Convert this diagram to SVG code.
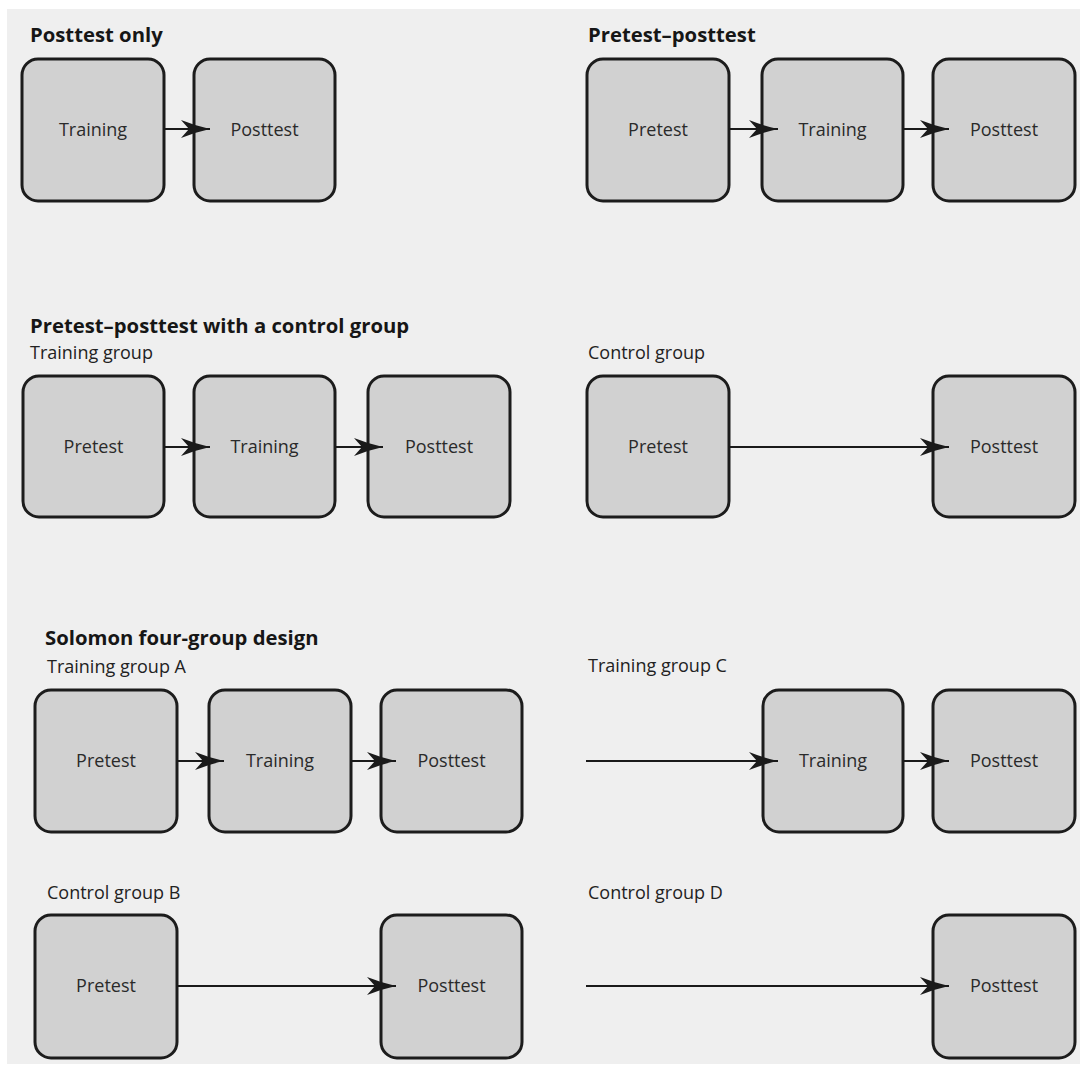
<svg xmlns="http://www.w3.org/2000/svg" width="1080" height="1066" viewBox="0 0 1080 1066">
  <defs>
    <style>
      .panel { fill: #efefef; }
      .box { fill: #d1d1d1; stroke: #1c1c1c; stroke-width: 3; }
      .label { font-family: "Open Sans", "Noto Sans", sans-serif; font-size: 18px; fill: #2a2a2a; text-anchor: middle; }
      .title { font-family: "Open Sans", "Noto Sans", sans-serif; font-size: 20.3px; font-weight: 700; fill: #161616; }
      .sub { font-family: "Open Sans", "Noto Sans", sans-serif; font-size: 18px; fill: #222222; }
      .link { stroke: #1a1a1a; stroke-width: 2; fill: none; marker-end: url(#barb); }
    </style>
    <marker id="barb" markerUnits="userSpaceOnUse" markerWidth="32" markerHeight="20" viewBox="-30 -10 32 20" refX="0" refY="0" orient="auto">
      <path d="M0,0 Q-14,-3 -29,-9 L-21,0 L-29,9 Q-14,3 0,0 Z" fill="#1a1a1a"/>
    </marker>
  </defs>

  <rect class="panel" x="7" y="9" width="1073" height="1055"/>

  <!-- headings -->
  <g id="headings">
    <text class="title" x="30" y="42">Posttest only</text>
    <text class="title" x="588" y="42">Pretest–posttest</text>
    <text class="title" x="30" y="333">Pretest–posttest with a control group</text>
    <text class="sub" x="30" y="359">Training group</text>
    <text class="sub" x="588" y="359">Control group</text>
    <text class="title" x="45" y="645">Solomon four-group design</text>
    <text class="sub" x="47" y="673">Training group A</text>
    <text class="sub" x="588" y="672">Training group C</text>
    <text class="sub" x="47" y="899">Control group B</text>
    <text class="sub" x="588" y="899">Control group D</text>
  </g>

  <!-- posttest only -->
  <g id="po-training"><rect class="box" x="22" y="59" width="142" height="142" rx="16"/><text class="label" x="93" y="136">Training</text></g>
  <g id="po-posttest"><rect class="box" x="194" y="59" width="141" height="142" rx="16"/><text class="label" x="264.5" y="136">Posttest</text></g>

  <!-- pretest-posttest -->
  <g id="pp-pretest"><rect class="box" x="587" y="59" width="142" height="142" rx="16"/><text class="label" x="658" y="136">Pretest</text></g>
  <g id="pp-training"><rect class="box" x="762" y="59" width="141" height="142" rx="16"/><text class="label" x="832.5" y="136">Training</text></g>
  <g id="pp-posttest"><rect class="box" x="933" y="59" width="142" height="142" rx="16"/><text class="label" x="1004" y="136">Posttest</text></g>

  <!-- pretest-posttest with control: training group -->
  <g id="tg-pretest"><rect class="box" x="23" y="376" width="141" height="141" rx="16"/><text class="label" x="93.5" y="453">Pretest</text></g>
  <g id="tg-training"><rect class="box" x="194" y="376" width="141" height="141" rx="16"/><text class="label" x="264.5" y="453">Training</text></g>
  <g id="tg-posttest"><rect class="box" x="368" y="376" width="142" height="141" rx="16"/><text class="label" x="439" y="453">Posttest</text></g>

  <!-- control group -->
  <g id="cg-pretest"><rect class="box" x="587" y="376" width="142" height="141" rx="16"/><text class="label" x="658" y="453">Pretest</text></g>
  <g id="cg-posttest"><rect class="box" x="933" y="376" width="142" height="141" rx="16"/><text class="label" x="1004" y="453">Posttest</text></g>

  <!-- Solomon: training group A -->
  <g id="a-pretest"><rect class="box" x="35" y="690" width="142" height="142" rx="16"/><text class="label" x="106" y="767">Pretest</text></g>
  <g id="a-training"><rect class="box" x="209" y="690" width="142" height="142" rx="16"/><text class="label" x="280" y="767">Training</text></g>
  <g id="a-posttest"><rect class="box" x="381" y="690" width="141" height="142" rx="16"/><text class="label" x="451.5" y="767">Posttest</text></g>

  <!-- Solomon: training group C -->
  <g id="c-training"><rect class="box" x="763" y="690" width="140" height="142" rx="16"/><text class="label" x="833" y="767">Training</text></g>
  <g id="c-posttest"><rect class="box" x="933" y="690" width="142" height="142" rx="16"/><text class="label" x="1004" y="767">Posttest</text></g>

  <!-- Solomon: control group B -->
  <g id="b-pretest"><rect class="box" x="35" y="915" width="142" height="143" rx="16"/><text class="label" x="106" y="992">Pretest</text></g>
  <g id="b-posttest"><rect class="box" x="381" y="915" width="141" height="143" rx="16"/><text class="label" x="451.5" y="992">Posttest</text></g>

  <!-- Solomon: control group D -->
  <g id="d-posttest"><rect class="box" x="933" y="915" width="142" height="143" rx="16"/><text class="label" x="1004" y="992">Posttest</text></g>

  <!-- connectors, drawn last so the arrowheads sit over the box edges -->
  <g id="connectors">
    <path class="link" d="M164,129 H210"/>
    <path class="link" d="M729,129 H778"/>
    <path class="link" d="M903,129 H949"/>
    <path class="link" d="M164,447 H210"/>
    <path class="link" d="M335,447 H383"/>
    <path class="link" d="M729,447 H949"/>
    <path class="link" d="M177,761 H224"/>
    <path class="link" d="M351,761 H396"/>
    <path class="link" d="M586,761 H778"/>
    <path class="link" d="M903,761 H949"/>
    <path class="link" d="M177,986 H396"/>
    <path class="link" d="M586,986 H949"/>
  </g>
</svg>
